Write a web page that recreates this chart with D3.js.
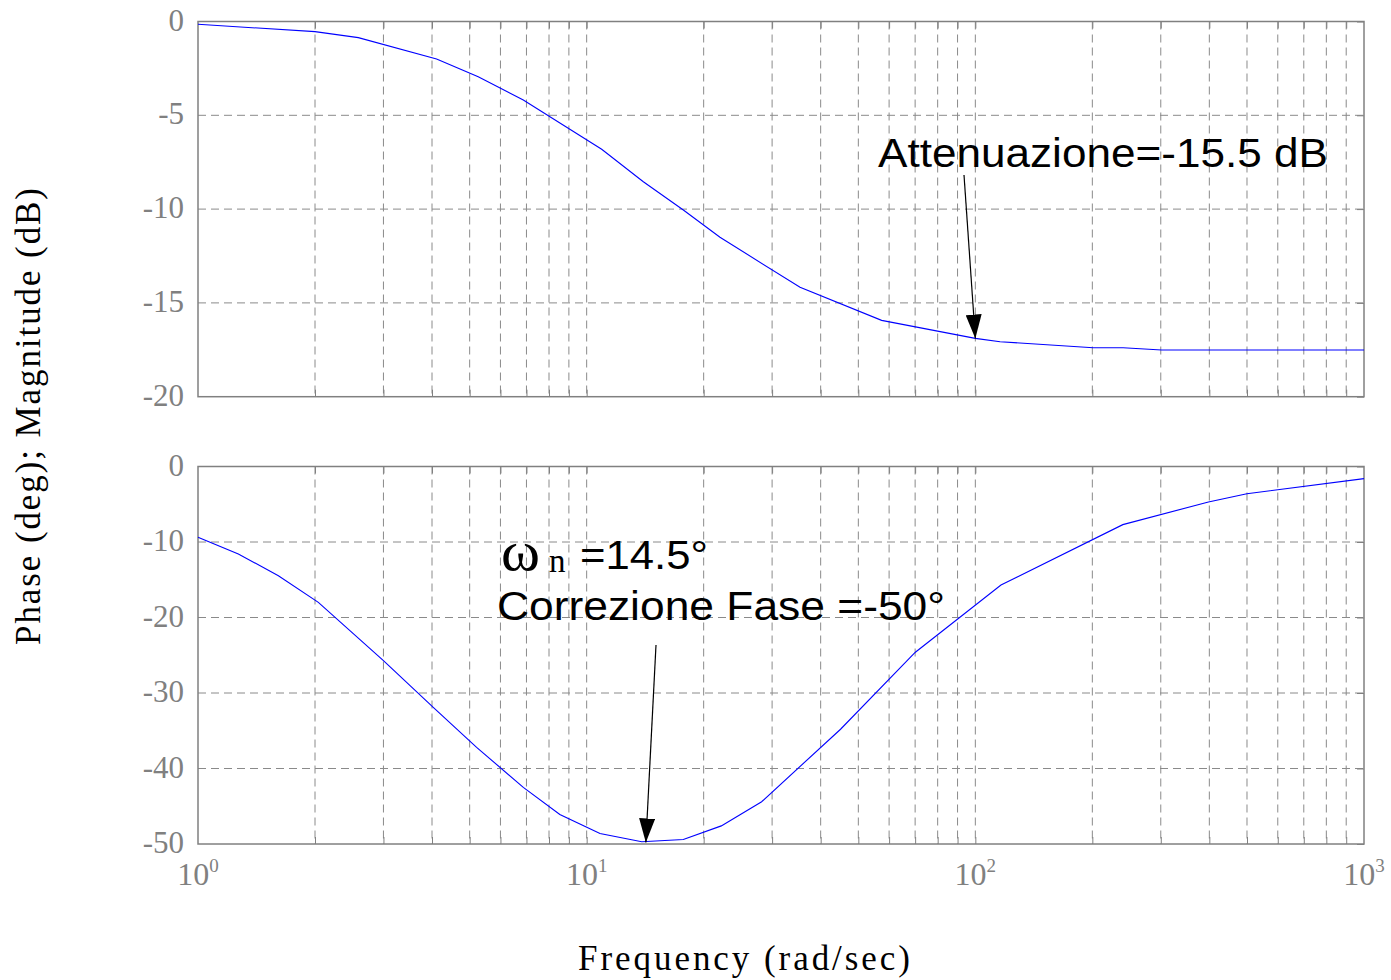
<!DOCTYPE html>
<html>
<head>
<meta charset="utf-8">
<script src="https://cdn.jsdelivr.net/npm/d3@7"></script>
<style>
  body { margin: 0; background: #fff; }
  svg { display: block; }
</style>
</head>
<body>
<svg id="chart" width="1391" height="980"></svg>
<script>
// magnitude response (dB)
const magFreq = [1, 2.0, 2.585, 4.11, 5.26, 6.87, 10.93, 13.99, 17.73, 22.03, 35.4, 57.4, 100, 115.8, 201, 240, 301.5, 1000]
const magDb = [-0.15, -0.54, -0.86, -2.0, -2.94, -4.18, -6.81, -8.54, -10.05, -11.5, -14.17, -15.93, -16.89, -17.07, -17.39, -17.39, -17.51, -17.51]

// phase response (deg)
const phaseFreq = [1, 1.27, 1.61, 2.04, 3.0, 4.03, 5.21, 6.87, 8.53, 10.82, 13.86, 17.73, 22.2, 28.2, 45.0, 70.1, 116.4, 239.6, 397.9, 499.7, 1000]
const phaseDeg = [-9.38, -11.58, -14.46, -18.0, -25.7, -31.9, -37.2, -42.5, -46.1, -48.6, -49.7, -49.4, -47.6, -44.4, -34.8, -24.6, -15.7, -7.7, -4.7, -3.6, -1.6]

const magTicks = [0, -5, -10, -15, -20]
const phaseTicks = [0, -10, -20, -30, -40, -50]
const decadeTicks = [1, 10, 100, 1000]
const decadeExp = ['0', '1', '2', '3']

const left = 198
const right = 1364
const gridColor = '#8a8a8a'
const frameColor = '#808080'
const labelFont = "'Liberation Serif', 'Times New Roman', serif"
const noteFont = "'Liberation Sans', Arial, sans-serif"

const svg = d3.select('#chart')

const x = d3.scaleLog().domain([1, 1000]).range([left, right])
const yMag = d3.scaleLinear().domain([0, -20]).range([21.5, 396.7])
const yPhase = d3.scaleLinear().domain([0, -50]).range([466.5, 844])

const minorX = x.ticks().filter(d => d > 1 && d < 1000)

function panel (yScale, ticks, freq, vals) {
  const [y0, y1] = yScale.range()
  const g = svg.append('g')

  // dashed grid
  g.append('g')
    .selectAll('line')
    .data(minorX)
    .join('line')
      .attr('x1', d => x(d)).attr('x2', d => x(d))
      .attr('y1', y0).attr('y2', y1)
      .attr('stroke', gridColor)
      .attr('stroke-width', 1)
      .attr('stroke-dasharray', '8,5')
  g.append('g')
    .selectAll('line')
    .data(ticks.slice(1, -1))
    .join('line')
      .attr('x1', left).attr('x2', right)
      .attr('y1', d => yScale(d)).attr('y2', d => yScale(d))
      .attr('stroke', gridColor)
      .attr('stroke-width', 1)
      .attr('stroke-dasharray', '8,5')

  // y labels
  const yAxis = g.append('g')
    .attr('transform', `translate(${left},0)`)
    .call(d3.axisLeft(yScale).tickValues(ticks).tickSize(0).tickPadding(14).tickFormat(d => String(d)))
  yAxis.select('.domain').remove()
  yAxis.selectAll('text')
    .attr('font-family', labelFont)
    .attr('font-size', 31)
    .attr('dy', '0.28em')
    .attr('fill', frameColor)

  // inward ticks on frame
  g.append('g')
    .attr('transform', `translate(0,${y1})`)
    .call(d3.axisBottom(x).tickValues(minorX).tickSize(-7).tickFormat(''))
    .call(a => a.select('.domain').remove())
    .selectAll('line').attr('stroke', frameColor)
  g.append('g')
    .attr('transform', `translate(0,${y0})`)
    .call(d3.axisTop(x).tickValues(minorX).tickSize(-7).tickFormat(''))
    .call(a => a.select('.domain').remove())
    .selectAll('line').attr('stroke', frameColor)
  g.append('g')
    .attr('transform', `translate(${right},0)`)
    .call(d3.axisRight(yScale).tickValues(ticks).tickSize(-7).tickFormat(''))
    .call(a => a.select('.domain').remove())
    .selectAll('line').attr('stroke', frameColor)

  // frame
  g.append('rect')
    .attr('x', left).attr('y', y0)
    .attr('width', right - left).attr('height', y1 - y0)
    .attr('fill', 'none')
    .attr('stroke', frameColor)
    .attr('stroke-width', 1.5)

  // curve
  g.append('path')
    .datum(d3.zip(freq, vals))
    .attr('fill', 'none')
    .attr('stroke', '#0000ff')
    .attr('stroke-width', 1.1)
    .attr('d', d3.line().x(d => x(d[0])).y(d => yScale(d[1])))
}

panel(yMag, magTicks, magFreq, magDb)
panel(yPhase, phaseTicks, phaseFreq, phaseDeg)

// decade labels 10^n
const xl = svg.append('g')
  .selectAll('text')
  .data(decadeTicks)
  .join('text')
    .attr('x', d => x(d))
    .attr('y', 885)
    .attr('text-anchor', 'middle')
    .attr('font-family', labelFont)
    .attr('font-size', 32)
    .attr('fill', frameColor)
xl.append('tspan').text('10')
xl.append('tspan')
  .attr('dy', -13)
  .attr('font-size', 19)
  .text((d, i) => decadeExp[i])

// axis titles
svg.append('text')
  .attr('x', 744).attr('y', 970)
  .attr('text-anchor', 'middle')
  .attr('font-family', labelFont)
  .attr('font-size', 35)
  .attr('textLength', 332)
  .attr('lengthAdjust', 'spacing')
  .text('Frequency (rad/sec)')

svg.append('text')
  .attr('transform', 'translate(40,416.5) rotate(-90)')
  .attr('text-anchor', 'middle')
  .attr('font-family', labelFont)
  .attr('font-size', 35)
  .attr('textLength', 457)
  .attr('lengthAdjust', 'spacing')
  .text('Phase (deg); Magnitude (dB)')

// annotations
svg.append('defs').append('marker')
  .attr('id', 'head')
  .attr('viewBox', '0 0 24 16')
  .attr('refX', 24).attr('refY', 8)
  .attr('markerWidth', 24).attr('markerHeight', 16)
  .attr('markerUnits', 'userSpaceOnUse')
  .attr('orient', 'auto')
  .append('path')
    .attr('d', 'M0,0 L24,8 L0,16 Z')
    .attr('fill', '#000')

function arrow (x1, y1, f, v, yScale) {
  svg.append('line')
    .attr('x1', x1).attr('y1', y1)
    .attr('x2', x(f)).attr('y2', yScale(v))
    .attr('stroke', '#000')
    .attr('stroke-width', 1.2)
    .attr('marker-end', 'url(#head)')
}

svg.append('text')
  .attr('x', 878).attr('y', 166.7)
  .attr('font-family', noteFont)
  .attr('font-size', 40)
  .attr('textLength', 450)
  .attr('lengthAdjust', 'spacingAndGlyphs')
  .text('Attenuazione=-15.5 dB')
arrow(964, 175, 100, -16.9, yMag)

svg.append('text')
  .attr('x', 501).attr('y', 570)
  .attr('font-family', labelFont)
  .attr('font-size', 56)
  .attr('textLength', 39)
  .attr('lengthAdjust', 'spacingAndGlyphs')
  .text('ω')
svg.append('text')
  .attr('x', 549).attr('y', 572)
  .attr('font-family', labelFont)
  .attr('font-size', 33)
  .text('n')
svg.append('text')
  .attr('x', 580).attr('y', 568.5)
  .attr('font-family', noteFont)
  .attr('font-size', 40)
  .attr('textLength', 128)
  .attr('lengthAdjust', 'spacingAndGlyphs')
  .text('=14.5°')
svg.append('text')
  .attr('x', 497).attr('y', 620)
  .attr('font-family', noteFont)
  .attr('font-size', 40)
  .attr('textLength', 448)
  .attr('lengthAdjust', 'spacingAndGlyphs')
  .text('Correzione Fase =-50°')
arrow(656, 645, 14.2, -49.8, yPhase)
</script>
</body>
</html>
